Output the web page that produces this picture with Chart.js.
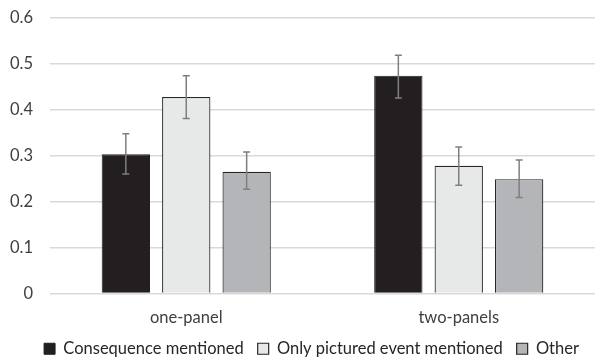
<!DOCTYPE html>
<html>
<head>
<meta charset="utf-8">
<script src="https://cdn.jsdelivr.net/npm/chart.js@4"></script>
<style>
  html, body { margin: 0; padding: 0; background: #fff; }
  #wrap { width: 595px; height: 359px; }
</style>
</head>
<body>
<div id="wrap"><canvas id="barChart" width="595" height="359"></canvas></div>
<script>
const categorias = ['one-panel', 'two-panels'];
const series = ['Consequence mentioned', 'Only pictured event mentioned', 'Other'];
const consequencia = [0.303, 0.474];
const soEvento = [0.428, 0.278];
const outro = [0.265, 0.249];
// limites das barras de erro (inferior, superior)
const erroConsequencia = [[0.260, 0.348], [0.426, 0.519]];
const erroSoEvento = [[0.381, 0.474], [0.236, 0.319]];
const erroOutro = [[0.227, 0.308], [0.209, 0.291]];
const ticksY = [0, 0.1, 0.2, 0.3, 0.4, 0.5, 0.6];

const fonte = "Lato, 'Open Sans', sans-serif";

const barrasErro = {
    id: 'barrasErro',
    afterLayout(chart) {
        // legenda um pouco deslocada para a direita, como no original
        chart.legend.left += 14;
        chart.legend.right += 14;
    },
    afterDatasetsDraw(chart) {
        const ctx = chart.ctx;
        const y = chart.scales.y;
        chart.data.datasets.forEach((ds, i) => {
            const meta = chart.getDatasetMeta(i);
            meta.data.forEach((bar, j) => {
                const [lo, hi] = ds.erros[j];
                const yLo = y.getPixelForValue(lo);
                const yHi = y.getPixelForValue(hi);
                ctx.save();
                ctx.strokeStyle = '#7f7f7f';
                ctx.lineWidth = 1.5;
                ctx.beginPath();
                ctx.moveTo(bar.x, yLo);
                ctx.lineTo(bar.x, yHi);
                ctx.moveTo(bar.x - 3.5, yLo);
                ctx.lineTo(bar.x + 3.5, yLo);
                ctx.moveTo(bar.x - 3.5, yHi);
                ctx.lineTo(bar.x + 3.5, yHi);
                ctx.stroke();
                ctx.restore();
            });
        });
    }
};

const dados = {
    labels: categorias,
    datasets: [
        { label: series[0], data: consequencia, erros: erroConsequencia, backgroundColor: '#231f20', borderColor: '#231f20', borderWidth: 1 },
        { label: series[1], data: soEvento, erros: erroSoEvento, backgroundColor: '#e7e8e8', borderColor: '#262626', borderWidth: 1.2 },
        { label: series[2], data: outro, erros: erroOutro, backgroundColor: '#b4b5b8', borderColor: '#262626', borderWidth: 1.2 }
    ]
};

new Chart(document.getElementById('barChart'), {
    type: 'bar',
    data: dados,
    options: {
        responsive: false,
        animation: false,
        categoryPercentage: 0.665,
        barPercentage: 0.8,
        layout: { padding: { top: 18, right: 0, left: 0, bottom: -8 } },
        scales: {
            x: {
                grid: { display: false },
                border: { display: false },
                afterFit: (scale) => { scale.height = 33; },
                ticks: { color: '#404040', font: { family: fonte, size: 16.5 }, padding: 6 }
            },
            y: {
                min: 0,
                max: 0.6,
                afterBuildTicks: (scale) => { scale.ticks = ticksY.map(v => ({ value: v })); },
                afterFit: (scale) => {
                    scale.width = 50;
                    scale.paddingTop = 0;
                    scale.paddingBottom = 0;
                },
                grid: { color: '#d9d9d9', lineWidth: 1.5, drawTicks: false },
                border: { display: false },
                ticks: {
                    color: '#404040',
                    padding: 17,
                    font: { family: fonte, size: 16.5 },
                    callback: (v) => v === 0 ? '0' : v.toFixed(1)
                }
            }
        },
        plugins: {
            legend: {
                position: 'bottom',
                labels: {
                    color: '#262626',
                    font: { family: fonte, size: 16.5 },
                    boxWidth: 11,
                    boxHeight: 11,
                    padding: 14
                }
            },
            tooltip: { enabled: false }
        }
    },
    plugins: [barrasErro]
});
</script>
</body>
</html>
